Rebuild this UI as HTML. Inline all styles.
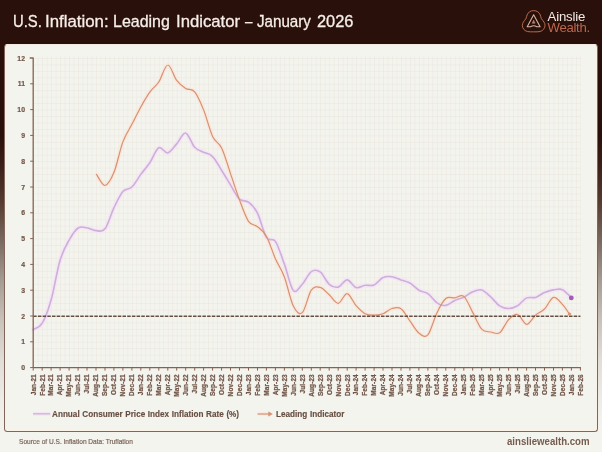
<!DOCTYPE html>
<html lang="en"><head><meta charset="utf-8"><title>U.S. Inflation: Leading Indicator – January 2026</title>
<style>
html,body{margin:0;padding:0}
html{background:#f4f4ef}
body{width:602px;height:452px;overflow:hidden;position:relative;font-family:"Liberation Sans",Arial,sans-serif;
background:linear-gradient(to bottom,#2a100a 0px,#2a100a 135px,#3a2019 165px,#54392f 200px,#78685e 240px,#a59b92 280px,#c9c2ba 320px,#e1ddd7 360px,#eeece7 400px,#f4f4ef 432px,#f4f4ef 452px);}
.title{position:absolute;left:0;top:12px;width:400px;height:20px;font-size:16.7px;line-height:20px;color:#f6efe9;white-space:nowrap;margin:0;font-weight:400;-webkit-text-stroke:0.3px #f6efe9}
.title span{position:absolute;top:0;display:block;transform-origin:0 50%}
.brand{position:absolute;left:547.6px;top:10.8px;font-size:13.2px;line-height:11px;letter-spacing:-0.2px;white-space:nowrap}
.brand .a{color:#f3ebe6;display:block}
.brand .w{color:#bd674b;display:block;letter-spacing:-0.32px}
.logo{position:absolute;left:516px;top:4px}
.card{position:absolute;left:3.8px;top:43.5px;width:594px;height:388.8px;box-sizing:border-box;background:#f4f4ef;border:1.5px solid #80655a;border-top:1px solid #f3e9e3;border-radius:3.5px;box-shadow:inset 0 -1px 2px rgba(253,242,226,0.8),inset 1px 0 2px rgba(253,242,226,0.6),inset -1px 0 2px rgba(253,242,226,0.6)}
.chart{position:absolute;left:0;top:0}
.wl{position:absolute;left:0;width:602px;white-space:nowrap}
.wl span{position:absolute;top:0;display:block;transform-origin:0 50%}
.legend{top:409.2px;height:11px;font-size:8.9px;line-height:11px;font-weight:700;color:#674e41;word-spacing:0.36px;-webkit-text-stroke:0.15px #674e41}
.src{top:436.5px;height:10px;font-size:7.3px;line-height:10px;color:#7b6558;-webkit-text-stroke:0.2px #7b6558}
.site{top:433.9px;height:14px;font-size:10.6px;line-height:14px;font-weight:700;color:#765c4f}
</style></head>
<body>
<h1 class="title"><span style="left:13.11px;transform:scaleX(0.8891)">U.S.</span> <span style="left:45.39px;transform:scaleX(1.0074)">Inflation:</span> <span style="left:112.84px;transform:scaleX(0.9568)">Leading</span> <span style="left:176.00px;transform:scaleX(0.9993)">Indicator</span> <span style="left:245.00px;transform:scaleX(0.8000)">–</span> <span style="left:256.90px;transform:scaleX(0.9080)">January</span> <span style="left:316.50px;transform:scaleX(0.9826)">2026</span></h1>
<svg class="logo" width="36" height="34" viewBox="0 0 36 34">
<path d="M17.67 6.62C19.05 6.62 20.71 7.03 21.80 7.74C22.89 8.46 23.61 9.75 24.21 10.90C24.81 12.06 24.79 13.47 25.41 14.66C26.04 15.85 27.37 16.92 27.97 18.05C28.57 19.17 29.07 20.24 29.02 21.43C28.97 22.62 28.50 24.17 27.67 25.19C26.84 26.20 25.73 27.08 24.06 27.52C22.39 27.96 19.80 27.82 17.67 27.82C15.54 27.82 12.94 27.96 11.28 27.52C9.61 27.08 8.50 26.20 7.67 25.19C6.84 24.17 6.37 22.62 6.32 21.43C6.27 20.24 6.77 19.17 7.37 18.05C7.97 16.92 9.30 15.85 9.92 14.66C10.55 13.47 10.53 12.06 11.13 10.90C11.73 9.75 12.44 8.46 13.53 7.74C14.62 7.03 16.29 6.62 17.67 6.62Z" fill="none" stroke="#b56c50" stroke-width="1" stroke-linejoin="round"/>
<path d="M17.65 10.8L24.1 22.7L20.8 22.7Q17.65 20.9 14.5 22.7L11.2 22.7Z" fill="none" stroke="#d6b3a4" stroke-width="1.1" stroke-linejoin="round"/>
<path d="M17.65 16.2L19.1 19.2L16.2 19.2Z" fill="#a87868" stroke="#c09888" stroke-width="0.5" stroke-linejoin="round"/>
</svg>
<div class="brand"><span class="a">Ainslie</span><span class="w">Wealth.</span></div>
<div class="card"></div>
<svg class="chart" width="602" height="452" viewBox="0 0 602 452">
<defs><pattern id="g" x="33.20" y="58.00" width="4.485" height="6.450" patternUnits="userSpaceOnUse"><path d="M0 0H4.485M0 0V6.450" stroke="#e8e4d9" stroke-width="0.9" fill="none"/></pattern></defs>
<rect x="33.2" y="56.4" width="547.8" height="311.2" fill="url(#g)"/>
<g fill="none" stroke-linecap="round" stroke-linejoin="round">
<path d="M33.2 329.7C34.7 328.6 39.2 328.2 42.2 323.2C45.2 318.3 48.1 310.5 51.1 300.0C54.1 289.5 57.1 270.2 60.1 260.3C63.1 250.3 66.1 245.5 69.1 240.1C72.1 234.8 75.1 230.1 78.1 228.0C81.0 226.0 84.0 227.3 87.0 227.8C90.0 228.2 93.0 230.4 96.0 230.6C99.0 230.8 102.0 232.6 105.0 228.8C108.0 225.0 110.9 214.1 113.9 207.9C116.9 201.7 119.9 195.1 122.9 191.6C125.9 188.2 128.9 189.9 131.9 187.0C134.9 184.1 137.9 178.4 140.8 174.4C143.8 170.3 146.8 167.2 149.8 162.7C152.8 158.3 155.8 149.4 158.8 147.8C161.8 146.2 164.8 153.6 167.8 152.9C170.7 152.3 173.7 147.2 176.7 143.9C179.7 140.6 182.7 132.5 185.7 133.1C188.7 133.6 191.7 144.1 194.7 147.3C197.7 150.5 200.6 150.6 203.6 152.2C206.6 153.7 209.6 153.5 212.6 156.6C215.6 159.6 218.6 165.5 221.6 170.2C224.6 175.0 227.6 180.1 230.5 184.9C233.5 189.8 236.5 196.2 239.5 199.1C242.5 202.0 245.5 199.9 248.5 202.2C251.5 204.5 254.5 207.2 257.5 213.1C260.4 218.9 263.4 232.8 266.4 237.6C269.4 242.3 272.4 237.0 275.4 241.4C278.4 245.9 281.4 256.0 284.4 264.1C287.4 272.3 290.3 287.1 293.3 290.5C296.3 293.8 299.3 287.4 302.3 284.3C305.3 281.1 308.3 273.7 311.3 271.6C314.3 269.6 317.2 269.8 320.2 271.9C323.2 274.0 326.2 281.7 329.2 284.3C332.2 286.8 335.2 287.8 338.2 287.1C341.2 286.4 344.2 279.8 347.2 279.9C350.1 280.0 353.1 286.7 356.1 287.6C359.1 288.5 362.1 285.7 365.1 285.3C368.1 284.9 371.1 286.3 374.1 285.0C377.1 283.8 380.0 278.9 383.0 277.6C386.0 276.2 389.0 276.4 392.0 276.8C395.0 277.2 398.0 278.8 401.0 279.9C404.0 280.9 406.9 281.3 409.9 283.0C412.9 284.7 415.9 288.4 418.9 290.2C421.9 292.0 424.9 291.4 427.9 293.6C430.9 295.7 433.9 300.9 436.9 302.8C439.8 304.8 442.8 305.8 445.8 305.4C448.8 305.0 451.8 301.9 454.8 300.5C457.8 299.1 460.8 298.6 463.8 297.2C466.8 295.7 469.7 293.0 472.7 291.7C475.7 290.5 478.7 289.1 481.7 289.9C484.7 290.8 487.7 294.2 490.7 296.9C493.7 299.6 496.7 304.0 499.6 305.9C502.6 307.9 505.6 308.6 508.6 308.5C511.6 308.5 514.6 307.4 517.6 305.7C520.6 303.9 523.6 299.3 526.6 297.9C529.5 296.6 532.5 298.3 535.5 297.4C538.5 296.5 541.5 293.8 544.5 292.5C547.5 291.3 550.5 290.4 553.5 289.9C556.5 289.5 559.4 288.4 562.4 289.7C565.4 291.0 569.9 296.3 571.4 297.7" stroke="#f5e4f6" stroke-width="4.6" opacity="0.9"/>
<path d="M96.5 174.4C97.9 176.2 102.1 185.8 105.0 185.5C107.9 185.1 110.9 179.8 113.9 172.6C116.9 165.3 119.9 149.9 122.9 141.9C125.9 133.8 128.9 130.1 131.9 124.3C134.9 118.5 137.9 112.4 140.8 107.0C143.8 101.6 146.8 96.2 149.8 92.1C152.8 87.9 155.8 86.5 158.8 82.0C161.8 77.5 164.8 65.2 167.8 65.0C170.7 64.7 173.7 76.5 176.7 80.4C179.7 84.4 182.7 86.6 185.7 88.4C188.7 90.3 191.7 88.2 194.7 91.8C197.7 95.4 200.6 102.4 203.6 109.9C206.6 117.3 209.6 130.1 212.6 136.4C215.6 142.8 218.6 141.9 221.6 148.0C224.6 154.2 227.6 164.9 230.5 173.6C233.5 182.2 236.5 191.9 239.5 199.9C242.5 207.9 245.5 216.8 248.5 221.3C251.5 225.8 254.5 224.2 257.5 226.7C260.4 229.2 263.4 230.9 266.4 236.3C269.4 241.6 272.4 251.9 275.4 258.7C278.4 265.5 281.4 269.2 284.4 277.0C287.4 284.9 290.3 300.0 293.3 305.9C296.3 311.9 299.3 315.3 302.3 312.6C305.3 310.0 308.3 294.4 311.3 290.2C314.3 286.0 317.2 286.6 320.2 287.4C323.2 288.1 326.2 292.2 329.2 294.8C332.2 297.5 335.2 303.6 338.2 303.4C341.2 303.1 344.2 293.2 347.2 293.6C350.1 293.9 353.1 302.3 356.1 305.7C359.1 309.0 362.1 312.1 365.1 313.7C368.1 315.3 371.1 315.2 374.1 315.2C377.1 315.2 380.0 314.8 383.0 313.7C386.0 312.6 389.0 309.3 392.0 308.5C395.0 307.7 398.0 306.7 401.0 308.8C404.0 310.8 406.9 316.9 409.9 320.9C412.9 324.9 415.9 330.7 418.9 333.0C421.9 335.4 424.9 338.2 427.9 334.8C430.9 331.5 433.9 319.0 436.9 312.9C439.8 306.8 442.8 301.0 445.8 298.5C448.8 296.0 451.8 298.3 454.8 297.9C457.8 297.6 460.8 294.0 463.8 296.4C466.8 298.8 469.7 306.9 472.7 312.4C475.7 317.8 478.7 325.9 481.7 329.2C484.7 332.4 487.7 331.4 490.7 332.0C493.7 332.6 496.7 334.8 499.6 332.8C502.6 330.7 505.6 322.7 508.6 319.6C511.6 316.6 514.6 313.7 517.6 314.5C520.6 315.2 523.6 324.1 526.6 324.3C529.5 324.4 532.5 317.8 535.5 315.2C538.5 312.7 541.5 312.0 544.5 309.0C547.5 306.1 550.5 298.2 553.5 297.4C556.5 296.7 559.8 301.6 562.4 304.4C565.1 307.2 568.3 312.5 569.5 314.1" stroke="#fbe6da" stroke-width="4" opacity="0.9"/>
<path d="M33.2 329.7C34.7 328.6 39.2 328.2 42.2 323.2C45.2 318.3 48.1 310.5 51.1 300.0C54.1 289.5 57.1 270.2 60.1 260.3C63.1 250.3 66.1 245.5 69.1 240.1C72.1 234.8 75.1 230.1 78.1 228.0C81.0 226.0 84.0 227.3 87.0 227.8C90.0 228.2 93.0 230.4 96.0 230.6C99.0 230.8 102.0 232.6 105.0 228.8C108.0 225.0 110.9 214.1 113.9 207.9C116.9 201.7 119.9 195.1 122.9 191.6C125.9 188.2 128.9 189.9 131.9 187.0C134.9 184.1 137.9 178.4 140.8 174.4C143.8 170.3 146.8 167.2 149.8 162.7C152.8 158.3 155.8 149.4 158.8 147.8C161.8 146.2 164.8 153.6 167.8 152.9C170.7 152.3 173.7 147.2 176.7 143.9C179.7 140.6 182.7 132.5 185.7 133.1C188.7 133.6 191.7 144.1 194.7 147.3C197.7 150.5 200.6 150.6 203.6 152.2C206.6 153.7 209.6 153.5 212.6 156.6C215.6 159.6 218.6 165.5 221.6 170.2C224.6 175.0 227.6 180.1 230.5 184.9C233.5 189.8 236.5 196.2 239.5 199.1C242.5 202.0 245.5 199.9 248.5 202.2C251.5 204.5 254.5 207.2 257.5 213.1C260.4 218.9 263.4 232.8 266.4 237.6C269.4 242.3 272.4 237.0 275.4 241.4C278.4 245.9 281.4 256.0 284.4 264.1C287.4 272.3 290.3 287.1 293.3 290.5C296.3 293.8 299.3 287.4 302.3 284.3C305.3 281.1 308.3 273.7 311.3 271.6C314.3 269.6 317.2 269.8 320.2 271.9C323.2 274.0 326.2 281.7 329.2 284.3C332.2 286.8 335.2 287.8 338.2 287.1C341.2 286.4 344.2 279.8 347.2 279.9C350.1 280.0 353.1 286.7 356.1 287.6C359.1 288.5 362.1 285.7 365.1 285.3C368.1 284.9 371.1 286.3 374.1 285.0C377.1 283.8 380.0 278.9 383.0 277.6C386.0 276.2 389.0 276.4 392.0 276.8C395.0 277.2 398.0 278.8 401.0 279.9C404.0 280.9 406.9 281.3 409.9 283.0C412.9 284.7 415.9 288.4 418.9 290.2C421.9 292.0 424.9 291.4 427.9 293.6C430.9 295.7 433.9 300.9 436.9 302.8C439.8 304.8 442.8 305.8 445.8 305.4C448.8 305.0 451.8 301.9 454.8 300.5C457.8 299.1 460.8 298.6 463.8 297.2C466.8 295.7 469.7 293.0 472.7 291.7C475.7 290.5 478.7 289.1 481.7 289.9C484.7 290.8 487.7 294.2 490.7 296.9C493.7 299.6 496.7 304.0 499.6 305.9C502.6 307.9 505.6 308.6 508.6 308.5C511.6 308.5 514.6 307.4 517.6 305.7C520.6 303.9 523.6 299.3 526.6 297.9C529.5 296.6 532.5 298.3 535.5 297.4C538.5 296.5 541.5 293.8 544.5 292.5C547.5 291.3 550.5 290.4 553.5 289.9C556.5 289.5 559.4 288.4 562.4 289.7C565.4 291.0 569.9 296.3 571.4 297.7" stroke="#ccb0d7" stroke-width="1.6"/>
<path d="M96.5 174.4C97.9 176.2 102.1 185.8 105.0 185.5C107.9 185.1 110.9 179.8 113.9 172.6C116.9 165.3 119.9 149.9 122.9 141.9C125.9 133.8 128.9 130.1 131.9 124.3C134.9 118.5 137.9 112.4 140.8 107.0C143.8 101.6 146.8 96.2 149.8 92.1C152.8 87.9 155.8 86.5 158.8 82.0C161.8 77.5 164.8 65.2 167.8 65.0C170.7 64.7 173.7 76.5 176.7 80.4C179.7 84.4 182.7 86.6 185.7 88.4C188.7 90.3 191.7 88.2 194.7 91.8C197.7 95.4 200.6 102.4 203.6 109.9C206.6 117.3 209.6 130.1 212.6 136.4C215.6 142.8 218.6 141.9 221.6 148.0C224.6 154.2 227.6 164.9 230.5 173.6C233.5 182.2 236.5 191.9 239.5 199.9C242.5 207.9 245.5 216.8 248.5 221.3C251.5 225.8 254.5 224.2 257.5 226.7C260.4 229.2 263.4 230.9 266.4 236.3C269.4 241.6 272.4 251.9 275.4 258.7C278.4 265.5 281.4 269.2 284.4 277.0C287.4 284.9 290.3 300.0 293.3 305.9C296.3 311.9 299.3 315.3 302.3 312.6C305.3 310.0 308.3 294.4 311.3 290.2C314.3 286.0 317.2 286.6 320.2 287.4C323.2 288.1 326.2 292.2 329.2 294.8C332.2 297.5 335.2 303.6 338.2 303.4C341.2 303.1 344.2 293.2 347.2 293.6C350.1 293.9 353.1 302.3 356.1 305.7C359.1 309.0 362.1 312.1 365.1 313.7C368.1 315.3 371.1 315.2 374.1 315.2C377.1 315.2 380.0 314.8 383.0 313.7C386.0 312.6 389.0 309.3 392.0 308.5C395.0 307.7 398.0 306.7 401.0 308.8C404.0 310.8 406.9 316.9 409.9 320.9C412.9 324.9 415.9 330.7 418.9 333.0C421.9 335.4 424.9 338.2 427.9 334.8C430.9 331.5 433.9 319.0 436.9 312.9C439.8 306.8 442.8 301.0 445.8 298.5C448.8 296.0 451.8 298.3 454.8 297.9C457.8 297.6 460.8 294.0 463.8 296.4C466.8 298.8 469.7 306.9 472.7 312.4C475.7 317.8 478.7 325.9 481.7 329.2C484.7 332.4 487.7 331.4 490.7 332.0C493.7 332.6 496.7 334.8 499.6 332.8C502.6 330.7 505.6 322.7 508.6 319.6C511.6 316.6 514.6 313.7 517.6 314.5C520.6 315.2 523.6 324.1 526.6 324.3C529.5 324.4 532.5 317.8 535.5 315.2C538.5 312.7 541.5 312.0 544.5 309.0C547.5 306.1 550.5 298.2 553.5 297.4C556.5 296.7 559.8 301.6 562.4 304.4C565.1 307.2 568.3 312.5 569.5 314.1" stroke="#d59272" stroke-width="1.2"/>
</g>
<line x1="33.2" y1="316.25" x2="580.4" y2="316.25" stroke="#523a2e" stroke-width="1.3" stroke-dasharray="3.5 1.2" opacity="0.88"/>
<circle cx="571.3" cy="297.9" r="2.4" fill="#a558bd"/>
<circle cx="569.4" cy="314.1" r="1.7" fill="#dc9670"/>
<path d="M30.2 58.0 H33.2 V367.6 H580.4" fill="none" stroke="#86634f" stroke-width="1.3" stroke-linejoin="round" stroke-linecap="round"/>
<path d="M30.2 367.6h3M30.2 341.8h3M30.2 316.0h3M30.2 290.2h3M30.2 264.4h3M30.2 238.6h3M30.2 212.8h3M30.2 187.0h3M30.2 161.2h3M30.2 135.4h3M30.2 109.6h3M30.2 83.8h3M33.2 367.6v3M42.2 367.6v3M51.1 367.6v3M60.1 367.6v3M69.1 367.6v3M78.1 367.6v3M87.0 367.6v3M96.0 367.6v3M105.0 367.6v3M113.9 367.6v3M122.9 367.6v3M131.9 367.6v3M140.8 367.6v3M149.8 367.6v3M158.8 367.6v3M167.8 367.6v3M176.7 367.6v3M185.7 367.6v3M194.7 367.6v3M203.6 367.6v3M212.6 367.6v3M221.6 367.6v3M230.5 367.6v3M239.5 367.6v3M248.5 367.6v3M257.5 367.6v3M266.4 367.6v3M275.4 367.6v3M284.4 367.6v3M293.3 367.6v3M302.3 367.6v3M311.3 367.6v3M320.2 367.6v3M329.2 367.6v3M338.2 367.6v3M347.2 367.6v3M356.1 367.6v3M365.1 367.6v3M374.1 367.6v3M383.0 367.6v3M392.0 367.6v3M401.0 367.6v3M409.9 367.6v3M418.9 367.6v3M427.9 367.6v3M436.9 367.6v3M445.8 367.6v3M454.8 367.6v3M463.8 367.6v3M472.7 367.6v3M481.7 367.6v3M490.7 367.6v3M499.6 367.6v3M508.6 367.6v3M517.6 367.6v3M526.6 367.6v3M535.5 367.6v3M544.5 367.6v3M553.5 367.6v3M562.4 367.6v3M571.4 367.6v3M580.4 367.6v3" fill="none" stroke="#86634f" stroke-width="1"/>
<g font-family="'Liberation Sans', Arial, sans-serif" font-size="6.9" font-weight="700" fill="#73574a" stroke="#73574a" stroke-width="0.2" text-anchor="end">
<text x="25" y="370.2">0</text>
<text x="25" y="344.4">1</text>
<text x="25" y="318.6">2</text>
<text x="25" y="292.8">3</text>
<text x="25" y="267.0">4</text>
<text x="25" y="241.2">5</text>
<text x="25" y="215.4">6</text>
<text x="25" y="189.6">7</text>
<text x="25" y="163.8">8</text>
<text x="25" y="138.0">9</text>
<text x="25" y="112.2">10</text>
<text x="25" y="86.4">11</text>
<text x="25" y="60.6">12</text>
</g>
<g font-family="'Liberation Sans', Arial, sans-serif" font-size="6.45" font-weight="700" fill="#73574a" stroke="#73574a" stroke-width="0.25" text-anchor="end" letter-spacing="0.12">
<text transform="translate(35.5 374.2) rotate(-90)">Jan-21</text>
<text transform="translate(44.5 374.2) rotate(-90)">Feb-21</text>
<text transform="translate(53.4 374.2) rotate(-90)">Mar-21</text>
<text transform="translate(62.4 374.2) rotate(-90)">Apr-21</text>
<text transform="translate(71.4 374.2) rotate(-90)">May-21</text>
<text transform="translate(80.4 374.2) rotate(-90)">Jun-21</text>
<text transform="translate(89.3 374.2) rotate(-90)">Jul-21</text>
<text transform="translate(98.3 374.2) rotate(-90)">Aug-21</text>
<text transform="translate(107.3 374.2) rotate(-90)">Sep-21</text>
<text transform="translate(116.2 374.2) rotate(-90)">Oct-21</text>
<text transform="translate(125.2 374.2) rotate(-90)">Nov-21</text>
<text transform="translate(134.2 374.2) rotate(-90)">Dec-21</text>
<text transform="translate(143.1 374.2) rotate(-90)">Jan-22</text>
<text transform="translate(152.1 374.2) rotate(-90)">Feb-22</text>
<text transform="translate(161.1 374.2) rotate(-90)">Mar-22</text>
<text transform="translate(170.1 374.2) rotate(-90)">Apr-22</text>
<text transform="translate(179.0 374.2) rotate(-90)">May-22</text>
<text transform="translate(188.0 374.2) rotate(-90)">Jun-22</text>
<text transform="translate(197.0 374.2) rotate(-90)">Jul-22</text>
<text transform="translate(205.9 374.2) rotate(-90)">Aug-22</text>
<text transform="translate(214.9 374.2) rotate(-90)">Sep-22</text>
<text transform="translate(223.9 374.2) rotate(-90)">Oct-22</text>
<text transform="translate(232.8 374.2) rotate(-90)">Nov-22</text>
<text transform="translate(241.8 374.2) rotate(-90)">Dec-22</text>
<text transform="translate(250.8 374.2) rotate(-90)">Jan-23</text>
<text transform="translate(259.8 374.2) rotate(-90)">Feb-23</text>
<text transform="translate(268.7 374.2) rotate(-90)">Mar-23</text>
<text transform="translate(277.7 374.2) rotate(-90)">Apr-23</text>
<text transform="translate(286.7 374.2) rotate(-90)">May-23</text>
<text transform="translate(295.6 374.2) rotate(-90)">Jun-23</text>
<text transform="translate(304.6 374.2) rotate(-90)">Jul-23</text>
<text transform="translate(313.6 374.2) rotate(-90)">Aug-23</text>
<text transform="translate(322.5 374.2) rotate(-90)">Sep-23</text>
<text transform="translate(331.5 374.2) rotate(-90)">Oct-23</text>
<text transform="translate(340.5 374.2) rotate(-90)">Nov-23</text>
<text transform="translate(349.5 374.2) rotate(-90)">Dec-23</text>
<text transform="translate(358.4 374.2) rotate(-90)">Jan-24</text>
<text transform="translate(367.4 374.2) rotate(-90)">Feb-24</text>
<text transform="translate(376.4 374.2) rotate(-90)">Mar-24</text>
<text transform="translate(385.3 374.2) rotate(-90)">Apr-24</text>
<text transform="translate(394.3 374.2) rotate(-90)">May-24</text>
<text transform="translate(403.3 374.2) rotate(-90)">Jun-24</text>
<text transform="translate(412.2 374.2) rotate(-90)">Jul-24</text>
<text transform="translate(421.2 374.2) rotate(-90)">Aug-24</text>
<text transform="translate(430.2 374.2) rotate(-90)">Sep-24</text>
<text transform="translate(439.2 374.2) rotate(-90)">Oct-24</text>
<text transform="translate(448.1 374.2) rotate(-90)">Nov-24</text>
<text transform="translate(457.1 374.2) rotate(-90)">Dec-24</text>
<text transform="translate(466.1 374.2) rotate(-90)">Jan-25</text>
<text transform="translate(475.0 374.2) rotate(-90)">Feb-25</text>
<text transform="translate(484.0 374.2) rotate(-90)">Mar-25</text>
<text transform="translate(493.0 374.2) rotate(-90)">Apr-25</text>
<text transform="translate(501.9 374.2) rotate(-90)">May-25</text>
<text transform="translate(510.9 374.2) rotate(-90)">Jun-25</text>
<text transform="translate(519.9 374.2) rotate(-90)">Jul-25</text>
<text transform="translate(528.9 374.2) rotate(-90)">Aug-25</text>
<text transform="translate(537.8 374.2) rotate(-90)">Sep-25</text>
<text transform="translate(546.8 374.2) rotate(-90)">Oct-25</text>
<text transform="translate(555.8 374.2) rotate(-90)">Nov-25</text>
<text transform="translate(564.7 374.2) rotate(-90)">Dec-25</text>
<text transform="translate(573.7 374.2) rotate(-90)">Jan-26</text>
<text transform="translate(582.7 374.2) rotate(-90)">Feb-26</text>
</g>
<line x1="33" y1="413.8" x2="50.2" y2="413.8" stroke="#f5e4f6" stroke-width="4" opacity="0.8"/>
<line x1="33" y1="413.8" x2="50.2" y2="413.8" stroke="#d0b4da" stroke-width="1.4"/>
<path d="M257.5 414H270" stroke="#fbe6da" stroke-width="3.4" opacity="0.7" fill="none"/><path d="M257.5 414H270" stroke="#d59272" stroke-width="1.2" fill="none"/><path d="M268.6 411.8L272.4 414L268.6 416.2Z" fill="#d59272" stroke="#d59272" stroke-width="0.5" stroke-linejoin="round"/>
</svg>
<div class="wl legend"><span style="left:51.70px;transform:scaleX(0.9200)">Annual Consumer Price Index Inflation Rate (%)</span></div>
<div class="wl legend"><span style="left:275.50px;transform:scaleX(0.9200)">Leading Indicator</span></div>
<div class="wl src"><span style="left:19.00px;transform:scaleX(0.9000)">Source of U.S. Inflation Data: Truflation</span></div>
<div class="wl site"><span style="left:506.80px;transform:scaleX(0.9108)">ainsliewealth.com</span></div>
</body></html>
